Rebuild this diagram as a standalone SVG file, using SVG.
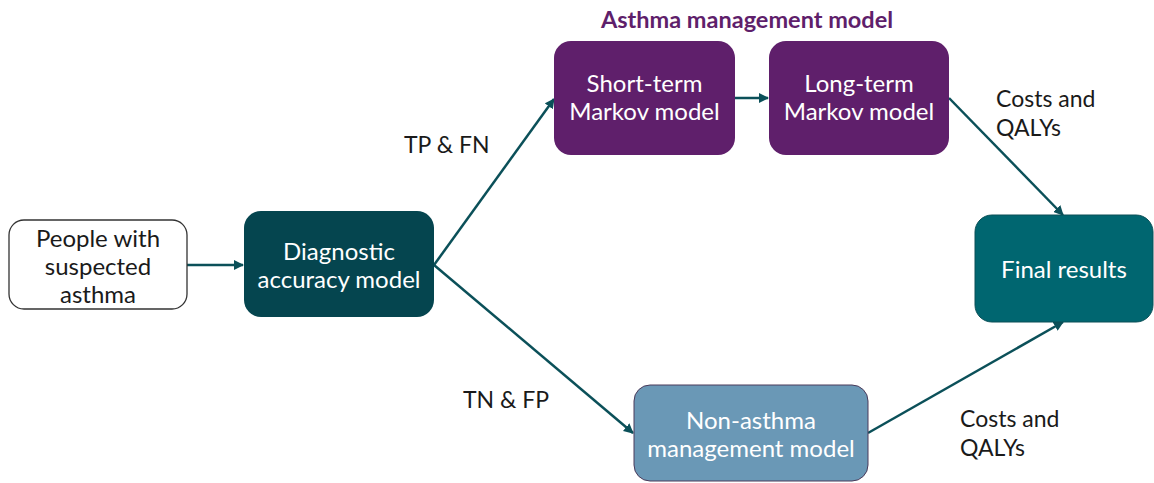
<svg xmlns="http://www.w3.org/2000/svg" width="1154" height="483" viewBox="0 0 1154 483">
  <style>
    .lbl { font-family: Lato, "Open Sans", "Liberation Sans", sans-serif; font-size: 24px; text-anchor: middle; }
    .white { fill: #ffffff; }
    .dark { fill: #1a1a1a; }
    .edge { fill: none; stroke: #0b5059; stroke-width: 2.5; marker-end: url(#arr); }
    .note { font-family: Lato, "Open Sans", "Liberation Sans", sans-serif; font-size: 23px; fill: #1a1a1a; }
  </style>
  <defs>
    <marker id="arr" viewBox="0 0 10 10" refX="9" refY="5" markerWidth="4" markerHeight="4" orient="auto" markerUnits="strokeWidth">
      <path d="M0,0 L10,5 L0,10 z" fill="#0b5059"/>
    </marker>
  </defs>
  <rect width="1154" height="483" fill="#ffffff"/>

  <text x="747" y="28" font-family="Lato, 'Open Sans', 'Liberation Sans', sans-serif" font-size="23.5" font-weight="bold" fill="#5f1f6b" text-anchor="middle">Asthma management model</text>

  <g id="connectors">
    <line class="edge" x1="187" y1="265" x2="243" y2="265"/>
    <line class="edge" x1="434" y1="265" x2="554" y2="99"/>
    <line class="edge" x1="434" y1="265" x2="633" y2="433"/>
    <line class="edge" x1="735" y1="98" x2="768" y2="98"/>
    <line class="edge" x1="949" y1="98" x2="1063" y2="215"/>
    <line class="edge" x1="868" y1="433" x2="1063" y2="322"/>
  </g>

  <g id="people">
    <rect x="9" y="220" width="178" height="89" rx="15" fill="#ffffff" stroke="#333333" stroke-width="1.3"/>
    <text class="lbl dark"><tspan x="98" y="247">People with</tspan><tspan x="98" y="275">suspected</tspan><tspan x="98" y="303">asthma</tspan></text>
  </g>

  <g id="diagnostic">
    <rect x="244" y="211" width="190" height="106" rx="17" fill="#05454f"/>
    <text class="lbl white"><tspan x="339" y="260">Diagnostic</tspan><tspan x="339" y="288">accuracy model</tspan></text>
  </g>

  <g id="short-term">
    <rect x="554" y="41" width="181" height="114" rx="17" fill="#5f1f6b"/>
    <text class="lbl white"><tspan x="644.5" y="92">Short-term</tspan><tspan x="644.5" y="120">Markov model</tspan></text>
  </g>

  <g id="long-term">
    <rect x="769" y="41" width="180" height="114" rx="17" fill="#5f1f6b"/>
    <text class="lbl white"><tspan x="859" y="92">Long-term</tspan><tspan x="859" y="120">Markov model</tspan></text>
  </g>

  <g id="final-results">
    <rect x="975" y="215" width="178" height="107" rx="17" fill="#006670" stroke="#0a4f56" stroke-width="1"/>
    <text class="lbl white" x="1064" y="278">Final results</text>
  </g>

  <g id="non-asthma">
    <rect x="634" y="385" width="234" height="96" rx="16" fill="#6a98b6" stroke="#4a3a5a" stroke-width="1"/>
    <text class="lbl white"><tspan x="751" y="429">Non-asthma</tspan><tspan x="751" y="457">management model</tspan></text>
  </g>

  <g id="edge-labels">
    <text class="note" x="404" y="153">TP &amp; FN</text>
    <text class="note" x="463" y="408">TN &amp; FP</text>
    <text class="note"><tspan x="996" y="107">Costs and</tspan><tspan x="996" y="136">QALYs</tspan></text>
    <text class="note"><tspan x="960" y="427">Costs and</tspan><tspan x="960" y="456">QALYs</tspan></text>
  </g>
</svg>
